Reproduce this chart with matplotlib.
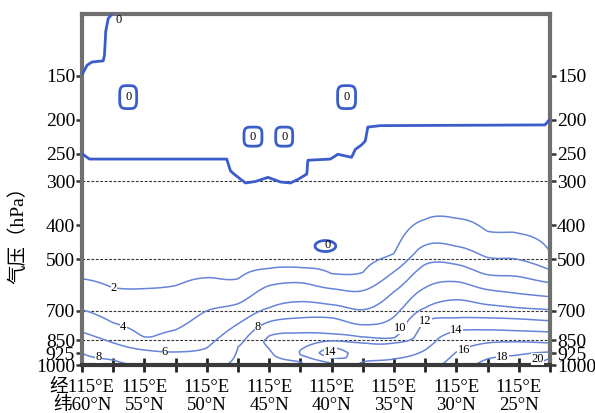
import numpy as np
import matplotlib
matplotlib.use('Agg')
import matplotlib.pyplot as plt
from matplotlib.ticker import NullLocator, FixedLocator

plt.rcParams['font.family'] = ['Liberation Serif', 'Noto Sans CJK SC']
plt.rcParams['axes.unicode_minus'] = False

# ---------------- data ----------------
LEVELS = [2, 4, 6, 8, 10, 12, 14, 16, 18, 20]
ZERO_LEVEL = [0]

# column profiles of the lower-tropospheric field: pressure (hPa) -> value
COL_LAT = [60.0, 57.5, 55.0, 52.5, 50.0, 47.5, 45.0, 42.5, 40.0, 37.5,
           35.0, 32.5, 30.0, 27.5, 25.0, 22.5]
PROF_P = [
    [1000, 924, 805, 696, 568, 454],
    [1000, 968, 865, 758, 602, 482],
    [1000, 906, 832, 606, 485],
    [1000, 918, 794, 594, 475],
    [1000, 894, 701, 564, 451],
    [1000, 888, 763, 669, 568, 454],
    [1000, 900, 859, 826, 753, 687, 594, 531, 425],
    [1000, 980, 936, 918, 906, 810, 734, 660, 583, 528, 422],
    [1000, 987, 955, 924, 894, 854, 815, 734, 673, 606, 549, 439],
    [1000, 980, 865, 832, 768, 696, 614, 545, 436],
    [1000, 961, 865, 837, 729, 618, 542, 481, 385],
    [1000, 906, 748, 687, 602, 517, 456, 385, 308],
    [1000, 918, 799, 734, 652, 579, 517, 459, 382, 306],
    [1000, 961, 865, 794, 734, 673, 610, 553, 494, 416, 333],
    [1000, 936, 859, 799, 739, 687, 626, 560, 501, 422, 338],
    [1000, 955, 918, 865, 805, 748, 696, 639, 583, 535, 475, 380],
]
PROF_V = [
    [8.5, 8, 6, 4, 2, 1],
    [8.3, 8, 6, 4, 2, 1],
    [7.8, 6, 4, 2, 1],
    [7.3, 6, 4, 2, 1],
    [7.6, 6, 4, 2, 1],
    [8.3, 8, 6, 4, 2, 1],
    [9.2, 10, 10.4, 10, 8, 6, 4, 2, 1],
    [9.8, 10, 12, 12.1, 12, 10, 8, 6, 4, 2, 1],
    [11.8, 12, 14, 14.8, 14, 12, 10, 8, 6, 4, 2, 1],
    [14.3, 14, 12, 10, 8, 6, 4, 2, 1],
    [14.6, 14, 12, 10, 8, 6, 4, 2, 1],
    [15.3, 14, 12, 10, 8, 6, 4, 2, 1],
    [16.8, 16, 14, 12, 10, 8, 6, 4, 2, 1],
    [18.7, 18, 16, 14, 12, 10, 8, 6, 4, 2, 1],
    [19.8, 18, 16, 14, 12, 10, 8, 6, 4, 2, 1],
    [20.6, 20, 18, 16, 14, 12, 10, 8, 6, 4, 2, 1],
]

# upper-level zero line (pressure of the 0 isoline by latitude)
TROP_LAT = [60.0, 59.4, 48.4, 48.1, 47.7, 46.9, 46.1, 45.1, 44.1, 43.3, 42.7,
            42.0, 41.9, 40.1, 39.5, 38.4, 38.1, 37.6, 37.3, 37.1, 36.1, 22.9, 22.5]
TROP_P = [250, 259, 259, 280, 288, 303, 300, 292, 301, 303, 296,
          286, 261, 259, 251, 256, 243, 236, 230, 210, 208, 207, 199]

# zero line in the upper-left corner (latitude of the 0 isoline by pressure)
CAP_P = [100, 103, 112, 131, 136, 137, 140, 149, 152, 1000]
CAP_LAT = [57.6, 57.9, 58.1, 58.2, 58.3, 59.2, 59.6, 60.0, 60.6, 60.6]

# small closed 0 cells in the upper troposphere
BOX_LAT = [56.3, 46.3, 43.8, 38.8]
BOX_HALF_LAT = [0.68, 0.72, 0.68, 0.72]
BOX_P_TOP = [160, 210, 210, 160]
BOX_P_BOT = [186, 238, 238, 186]

# small closed 0 cell near 450 hPa
DIP_LAT, DIP_HALF_LAT, DIP_P_TOP, DIP_P_BOT = 40.5, 0.83, 442, 475

# contour labels
LAB_TEXT = ['2', '4', '6', '8', '8', '10', '12', '14', '14', '16', '18', '20']
LAB_LAT = [57.44, 56.7, 53.35, 58.7, 45.9, 34.5, 32.5, 40.1, 30.0, 29.4, 26.3, 23.5]
LAB_P = [602, 779, 918, 949, 779, 784, 748, 918, 794, 906, 949, 961]
ZERO_LAB_LAT = [57.1, 40.3]
ZERO_LAB_P = [104, 456]

Y_TICKS = [150, 200, 250, 300, 400, 500, 700, 850, 925, 1000]
DASH_P = [300, 500, 700, 850]
X_MAJOR = [60, 55, 50, 45, 40, 35, 30, 25]
X_MINOR = [57.5, 52.5, 47.5, 42.5, 37.5, 32.5, 27.5, 22.5]

LINE_COLOR = '#6684d8'
ZERO_COLOR = '#3a5dca'

# ---------------- build the gridded field ----------------
lnP = np.linspace(np.log(100), np.log(1000), 600)
P = np.exp(lnP)
LATS = np.linspace(22.5, 60.0, 376)
LAT2, LNP2 = np.meshgrid(LATS, lnP)

cols = np.array([np.interp(lnP, np.log(np.array(pp, float))[::-1], np.array(vv, float)[::-1])
                 for pp, vv in zip(PROF_P, PROF_V)])
col_lat = np.array(COL_LAT)
order = np.argsort(col_lat)
cl = col_lat[order]
cv = cols[order]                      # (ncol, nP), ascending latitude
n = len(cl)
# cubic Hermite (Catmull-Rom) between the columns
m = np.empty_like(cv)
m[1:-1] = 0.5 * (cv[2:] - cv[:-2])
m[0] = cv[1] - cv[0]
m[-1] = cv[-1] - cv[-2]
idx = np.clip(np.searchsorted(cl, LATS, side='right') - 1, 0, n - 2)
t = ((LATS - cl[idx]) / (cl[idx + 1] - cl[idx]))[None, :]
h00 = 2 * t**3 - 3 * t**2 + 1
h10 = t**3 - 2 * t**2 + t
h01 = -2 * t**3 + 3 * t**2
h11 = t**3 - t**2
lower = (h00 * cv[idx].T + h10 * m[idx].T + h01 * cv[idx + 1].T + h11 * m[idx + 1].T)

tl = np.array(TROP_LAT)
to = np.argsort(tl)
p0 = np.interp(LATS, tl[to], np.array(TROP_P, float)[to])
field = np.minimum(lower, 25.0 * (LNP2 - np.log(p0)[None, :]))

lat_b = np.interp(P, CAP_P, CAP_LAT)
field = np.maximum(field, np.clip(4.0 * (LAT2 - lat_b[:, None]), -3, 1))

for bl, bh, pt, pb in zip(BOX_LAT, BOX_HALF_LAT, BOX_P_TOP, BOX_P_BOT):
    pc = 0.5 * (np.log(pt) + np.log(pb))
    hh = 0.5 * (np.log(pb) - np.log(pt))
    norm = (((LAT2 - bl) / bh) ** 4 + ((LNP2 - pc) / hh) ** 4) ** 0.25
    field = np.maximum(field, np.clip(3.0 * (1 - norm), -3, 1))

pc = 0.5 * (np.log(DIP_P_TOP) + np.log(DIP_P_BOT))
hh = 0.5 * (np.log(DIP_P_BOT) - np.log(DIP_P_TOP))
norm = np.sqrt(((LAT2 - DIP_LAT) / DIP_HALF_LAT) ** 2 + ((LNP2 - pc) / hh) ** 2)
field = np.minimum(field, 3.0 * (norm - 1))

# ---------------- plot ----------------
fig = plt.figure(figsize=(5.95, 4.13), dpi=100)
ax = fig.add_axes([82 / 595, 48 / 413, 468 / 595, 351 / 413])
ax.set_yscale('log')

for pd in DASH_P:
    ax.axhline(pd, color='#333333', lw=0.8, ls=(0, (2.5, 1.5)), zorder=1)

ax.contour(LATS, P, field, levels=LEVELS, colors=LINE_COLOR, linewidths=1.1, zorder=2)
ax.contour(LATS, P, field, levels=ZERO_LEVEL, colors=ZERO_COLOR, linewidths=2.0, zorder=3)

lab_kw = dict(ha='center', va='center', fontsize=9, zorder=5,
              bbox=dict(facecolor='white', edgecolor='none', pad=0.2))
for tx, la, pp in zip(LAB_TEXT, LAB_LAT, LAB_P):
    ax.text(la, pp, tx, **lab_kw)
for la, pp in zip(ZERO_LAB_LAT, ZERO_LAB_P):
    ax.text(la, pp, '0', ha='center', va='center', fontsize=9, zorder=5)
for bl, pt, pb in zip(BOX_LAT, BOX_P_TOP, BOX_P_BOT):
    ax.text(bl, np.sqrt(pt * pb), '0', ha='center', va='center', fontsize=9, zorder=5)

ax.set_xlim(60, 22.5)
ax.set_ylim(1000, 100)

ax.yaxis.set_major_locator(FixedLocator(Y_TICKS))
ax.yaxis.set_minor_locator(NullLocator())
ax.set_yticklabels([str(v) for v in Y_TICKS])
ax.tick_params(axis='y', which='major', direction='out', length=4, width=1.8,
               color='#333333', labelsize=14, pad=1, left=True, right=True,
               labelleft=True, labelright=True)

ax.set_xticks(X_MAJOR)
ax.set_xticks(X_MINOR, minor=True)
xlabels = []
for i, v in enumerate(X_MAJOR):
    if i == 0:
        xlabels.append('经115°E\n纬%d°N' % v)
    else:
        xlabels.append('115°E\n%d°N' % v)
ax.set_xticklabels(xlabels)
for tk in ax.get_xticklabels():
    tk.set_linespacing(1.1)
ax.tick_params(axis='x', which='both', direction='inout', length=10, width=2,
               color='#222222', labelsize=13.5, pad=5)

for s in ax.spines.values():
    s.set_linewidth(3)
    s.set_color('#707070')
ax.spines['bottom'].set_color('#3a3a3a')

fig.text(18 / 595, 1 - 230 / 413, '气压（hPa）', rotation=90, ha='center', va='center',
         fontsize=14)

fig.savefig('out.png', dpi=100)
